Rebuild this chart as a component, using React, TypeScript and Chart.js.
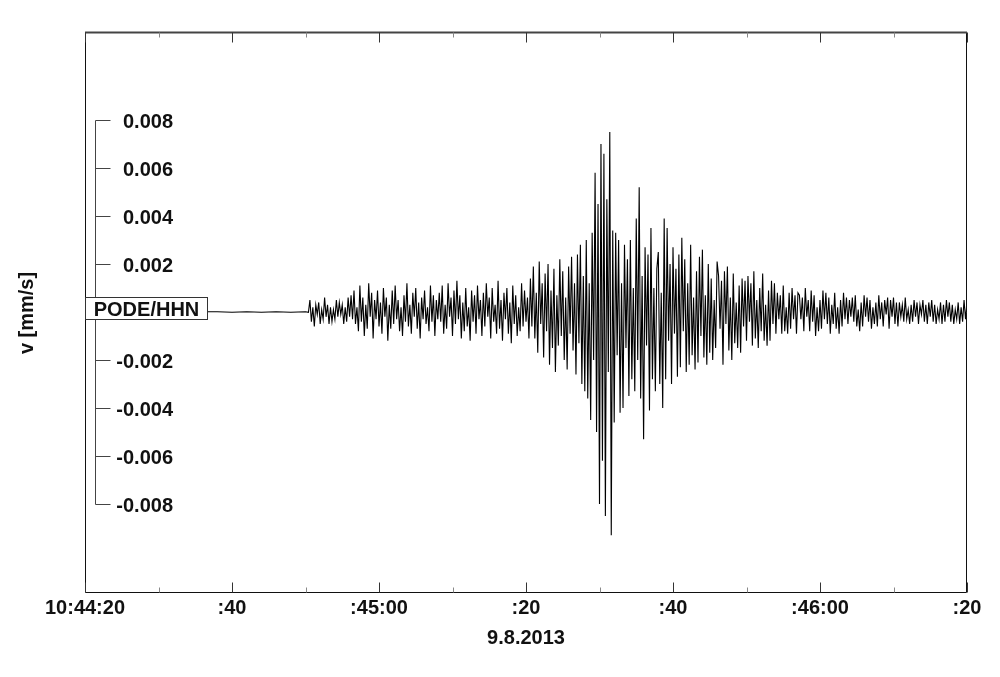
import React, { useEffect, useRef } from "react";
import { Chart, registerables } from "chart.js";

Chart.register(...registerables);

// ---- axis texts ----
const xTickSeconds = [0, 20, 40, 60, 80, 100, 120];
const xTickLabels = ["10:44:20", ":40", ":45:00", ":20", ":40", ":46:00", ":20"];
const xMinorTickSeconds = [10, 30, 50, 70, 90, 110];
const dateLabel = "9.8.2013";
const yTickValues = [0.008, 0.006, 0.004, 0.002, -0.002, -0.004, -0.006, -0.008];
const yTickLabels = ["0.008", "0.006", "0.004", "0.002", "-0.002", "-0.004", "-0.006", "-0.008"];
const yTitle = "v [mm/s]";
const stationLabel = "PODE/HHN";

// ---- trace data (values in units of 0.0001 mm/s, time in s after 10:44:20) ----
const unitToMmPerS = 1e-4;
const preEventTimes = [0, 3, 6, 9, 12, 15, 18, 20, 22, 24, 26, 28, 30, 30.4];
const preEventValues = [0, 0.1, -0.1, 0.05, -0.05, 0.1, 0.1, -0.1, 0.1, -0.1, 0.1, -0.1, 0.1, -0.1];
const eventStartTime = 30.6;
const eventSampleInterval = 0.2;
const eventValues = [
  // onset
  5, -4, 2, -6, 3, -1, 4, -5, 1, -3, 6, -2, 3, -5, 2, -4, 1, -3, 5, -2,
  4, -1, 3, -5, 2, -4, 6, -2,
  // P coda
  7, -3, 9, -5, 2, -8, 11, -4, 6, -10, 3, -7, 12, -2, 8, -11, 5, -3, 9, -6,
  4, -9, 10, -2, 6, -12, 3, -7, 9, -5, 11, -3, 5, -8, 2, -10, 7, -4, 12, -6,
  3, -9, 8, -2, 10, -7, 4, -11, 6, -3, 9, -5, 2, -8, 11, -4, 7, -10, 5, -3,
  8, -4, 11, -9, 3, -7, 12, -2, 6, -10, 9, -5, 13, -3, 7, -11, 4, -8, 10, -6,
  2, -12, 9, -4, 7, -9, 11, -3, 5, -10, 8, -6, 12, -2, 6, -11, 10, -4, 3, -9,
  13, -7, 5, -12, 8, -3, 10, -9, 4, -13, 11, -5, 7, -10, 2, -8, 12, -6, 9, -4,
  6, -11,
  // S onset
  14, -6, 19, -11, 8, -17, 21, -5, 12, -19, 16, -8, 20, -22, 9, -15, 18, -25, 7, -14,
  22, -10, 17, -20, 6, -24, 19, -9, 23, -16, 12, -26, 24, -13, 28, -30, 15, -33,
  // main burst
  30, -36, 12, -45, 33, -20, 58, -50, 45, -80, 70, -62, 66, -85, 47, -25, 75, -93, 34, -46,
  33, -18, 30, -42, 12, -40, 28, -15, 22, -35, 30, -28, 10, -33, 39, -20, 52, -36, 15, -53,
  27, -14, 24, -41, 35,
  // decay
  -28, 10, -33, 18, 25, -30, 8, -40, 39, -28, 35, -12, 20, -30, 27, -9, 18, -27, 24, -23,
  31, -8, 22, -25, 12, -22, 28, -18, 6, -24, 17, -21, 23, -10, 26, -19, 7, -22, 20, -17,
  14, -20, 5, -15, 21,
  15, -7, 13, -22, 17, -5, 19, -16, 6, -20, 16, -13, 4, -15, 11, -17, 14, -6, 13, -12,
  15, -4, 12, -14, 17, -11, 5, -15, 10, -8, 16, -12, 3, -14, 9, -12, 13, -5, 12, -9,
  8, -3, 7, -9, 11, -8, 2, -9, 8, -7, 10, -3, 7, -9, 8,
  // tail
  7, -3, 6, -8, 10, -2, 5, -8, 9, -4, 7, -10, 2, -8, 5, -7, 9, -3, 8, -5,
  6, -9, 3, -5, 8, -7, 2, -9, 5, -6, 8, -3, 6, -5,
  5, -2, 6, -4, 7, -6, 1, -8, 4, -6, 7, -2, 6, -4, 5, -7, 2, -5, 4, -6,
  7, -3, 4, -6, 5, -1, 6, -7, 5, -2, 6, -5, 4, -6,
  4, -2, 3, -4, 6, -3, 1, -5, 3, -4, 5, -2, 4, -5, 3, -1, 5, -4, 3, -5,
  4, -2, 5, -4, 3, -5, 1, -3, 4, -5, 3, -4, 5, -2, 4, -4, 3, -5, 1, -3,
  4, -5, 2, -4, 5, -3, 4,
];

const FONT = 'bold 20px "Liberation Sans", Arial, Helvetica, sans-serif';

const decorPlugin = {
  id: "seismoDecor",
  afterDraw(chart: any) {
    const { ctx, chartArea, scales } = chart;
    const xs = scales.x;
    const ys = scales.y;
    const L = Math.round(chartArea.left) + 0.5;
    const R = Math.round(chartArea.right) - 0.5;
    const T = Math.round(chartArea.top) + 0.5;
    const B = Math.round(chartArea.bottom) - 0.5;
    ctx.save();

    // frame
    ctx.strokeStyle = "#111";
    ctx.lineWidth = 1;
    ctx.beginPath();
    ctx.moveTo(L, B);
    ctx.lineTo(R, B);
    ctx.moveTo(L, T);
    ctx.lineTo(L, B);
    ctx.moveTo(R, T);
    ctx.lineTo(R, B);
    ctx.stroke();
    ctx.strokeStyle = "#444";
    ctx.lineWidth = 2;
    ctx.beginPath();
    ctx.moveTo(L - 0.5, T);
    ctx.lineTo(R + 0.5, T);
    ctx.stroke();

    // x ticks
    ctx.lineWidth = 1;
    ctx.strokeStyle = "#333";
    ctx.beginPath();
    xTickSeconds.forEach((s) => {
      const px = Math.round(xs.getPixelForValue(s)) + 0.5;
      ctx.moveTo(px, B);
      ctx.lineTo(px, B - 10);
      ctx.moveTo(px, T);
      ctx.lineTo(px, T + 10);
    });
    ctx.stroke();
    ctx.strokeStyle = "#888";
    ctx.beginPath();
    xMinorTickSeconds.forEach((s) => {
      const px = Math.round(xs.getPixelForValue(s)) + 0.5;
      ctx.moveTo(px, B);
      ctx.lineTo(px, B - 5);
      ctx.moveTo(px, T);
      ctx.lineTo(px, T + 5);
    });
    ctx.stroke();

    // x labels
    ctx.fillStyle = "#111";
    ctx.font = FONT;
    ctx.textAlign = "center";
    ctx.textBaseline = "alphabetic";
    xTickSeconds.forEach((s, i) => {
      ctx.fillText(xTickLabels[i], xs.getPixelForValue(s), B + 21.5);
    });
    ctx.fillText(dateLabel, (chartArea.left + chartArea.right) / 2, B + 51.5);

    // y bracket axis
    const yTop = Math.round(ys.getPixelForValue(yTickValues[0])) + 0.5;
    const yBot = Math.round(ys.getPixelForValue(yTickValues[yTickValues.length - 1])) + 0.5;
    const ax = L + 10;
    ctx.strokeStyle = "#444";
    ctx.beginPath();
    ctx.moveTo(ax, yTop);
    ctx.lineTo(ax, yBot);
    yTickValues.forEach((v) => {
      const py = Math.round(ys.getPixelForValue(v)) + 0.5;
      ctx.moveTo(ax, py);
      ctx.lineTo(ax + 15, py);
    });
    ctx.stroke();
    ctx.textAlign = "right";
    yTickValues.forEach((v, i) => {
      const py = ys.getPixelForValue(v);
      ctx.fillText(yTickLabels[i], L + 87.5, py + 8);
    });

    // station box at zero
    const y0 = Math.round(ys.getPixelForValue(0));
    const bx = L;
    const by = y0 - 14.5;
    const bw = 122;
    const bh = 22;
    ctx.fillStyle = "#fff";
    ctx.fillRect(bx, by, bw, bh);
    ctx.strokeStyle = "#333";
    ctx.strokeRect(bx, by, bw, bh);
    ctx.fillStyle = "#111";
    ctx.textAlign = "center";
    ctx.fillText(stationLabel, bx + bw / 2, by + 18.5);

    // y title
    ctx.save();
    ctx.translate(27.5, y0 + 1);
    ctx.rotate(-Math.PI / 2);
    ctx.textAlign = "center";
    ctx.textBaseline = "middle";
    ctx.fillText(yTitle, 0, 0);
    ctx.restore();

    ctx.restore();
  },
};

export default function App() {
  const canvasRef = useRef<HTMLCanvasElement | null>(null);

  useEffect(() => {
    const canvas = canvasRef.current;
    if (!canvas) return;
    const points = [
      ...preEventTimes.map((t, i) => ({ x: t, y: preEventValues[i] * unitToMmPerS })),
      ...eventValues.map((v, i) => ({
        x: eventStartTime + i * eventSampleInterval,
        y: v * unitToMmPerS,
      })),
    ];
    const chart = new Chart(canvas, {
      type: "line",
      data: {
        datasets: [
          {
            data: points,
            borderColor: "#000",
            borderWidth: 1.1,
            pointRadius: 0,
            tension: 0,
            fill: false,
          },
        ],
      },
      options: {
        animation: false,
        responsive: false,
        devicePixelRatio: 1,
        layout: { padding: { left: 85, right: 33, top: 32, bottom: 84 } },
        scales: {
          x: { type: "linear", min: 0, max: 120, display: false },
          y: { type: "linear", min: -0.01171, max: 0.01167, display: false },
        },
        plugins: {
          legend: { display: false },
          tooltip: { enabled: false },
          title: { display: false },
        },
      },
      plugins: [decorPlugin],
    });
    return () => chart.destroy();
  }, []);

  return (
    <div style={{ position: "absolute", left: 0, top: 0, width: 1000, height: 677, background: "#fff" }}>
      <canvas ref={canvasRef} width={1000} height={677} style={{ width: 1000, height: 677 }} />
    </div>
  );
}
